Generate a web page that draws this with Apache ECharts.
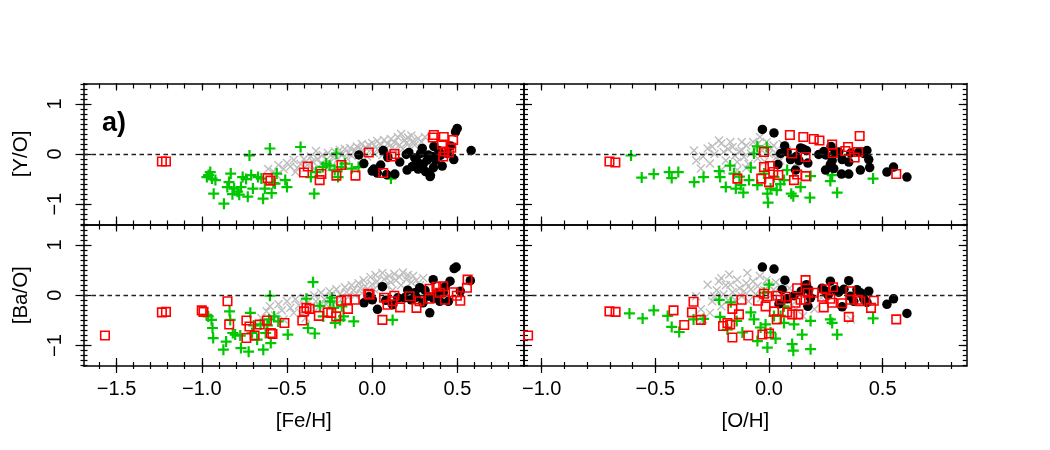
<!DOCTYPE html>
<html><head><meta charset="utf-8">
<script src="https://cdn.jsdelivr.net/npm/echarts@6/dist/echarts.min.js"></script>
<style>html,body{margin:0;padding:0;background:#fff}#c{width:1050px;height:450px}</style>
</head><body><div id="c"></div>
<script>
// ---------- axis ranges & ticks ----------
const feRange = [-1.694, 0.891];
const oRange = [-1.078, 0.870];
const yRange = [-1.405, 1.405];
const xMajorFe = [-1.5, -1.0, -0.5, 0.0, 0.5];
const xMinorFe = [-1.6,-1.5,-1.4,-1.3,-1.2,-1.1,-1.0,-0.9,-0.8,-0.7,-0.6,-0.5,-0.4,-0.3,-0.2,-0.1,0,0.1,0.2,0.3,0.4,0.5,0.6,0.7,0.8];
const xMajorO = [-1.0, -0.5, 0.0, 0.5];
const xMinorO = [-1.0,-0.9,-0.8,-0.7,-0.6,-0.5,-0.4,-0.3,-0.2,-0.1,0,0.1,0.2,0.3,0.4,0.5,0.6,0.7,0.8];
const yMajor = [-1, 0, 1];
const yMinor = [-1.4,-1.3,-1.2,-1.1,-1.0,-0.9,-0.8,-0.7,-0.6,-0.5,-0.4,-0.3,-0.2,-0.1,0,0.1,0.2,0.3,0.4,0.5,0.6,0.7,0.8,0.9,1.0,1.1,1.2,1.3,1.4];

// ---------- top-left: [Fe/H] vs [Y/O] ----------
const tlGray = [[-0.61,-0.30],[-0.58,-0.35],[-0.56,-0.42],[-0.55,-0.22],[-0.52,-0.30],[-0.50,-0.18],[-0.48,-0.25],[-0.46,-0.12],[-0.45,-0.36],[-0.44,-0.28],[-0.42,-0.20],[-0.40,-0.10],[-0.38,-0.22],[-0.36,-0.05],[-0.35,-0.15],[-0.34,-0.30],[-0.33,0.06],[-0.32,-0.10],[-0.30,-0.20],[-0.29,-0.02],[-0.27,-0.12],[-0.26,0.02],[-0.25,-0.18],[-0.24,-0.26],[-0.23,-0.06],[-0.22,0.05],[-0.20,-0.10],[-0.19,0.08],[-0.18,-0.02],[-0.16,0.10],[-0.15,-0.08],[-0.14,0.03],[-0.13,0.12],[-0.12,-0.04],[-0.10,0.07],[-0.09,0.15],[-0.08,-0.02],[-0.07,0.10],[-0.06,0.20],[-0.05,0.04],[-0.04,0.13],[-0.03,-0.05],[-0.02,0.18],[-0.01,0.08],[0.00,0.22],[0.01,0.02],[0.02,0.14],[0.03,0.26],[0.04,0.06],[0.05,0.18],[0.06,-0.02],[0.07,0.28],[0.08,0.10],[0.09,0.20],[0.10,0.04],[0.11,0.30],[0.12,0.14],[0.13,0.24],[0.14,0.06],[0.15,0.34],[0.16,0.18],[0.17,0.40],[0.18,0.10],[0.19,0.28],[0.20,0.22],[0.21,0.33],[0.22,0.14],[0.23,0.37],[0.24,0.26],[0.25,0.18],[0.27,0.31],[0.29,0.24],[0.31,0.34]];
const tlGreen = [[-0.96,-0.42],[-0.95,-0.36],[-0.97,-0.46],[-0.94,-0.49],[-0.93,-0.79],[-0.87,-0.99],[-0.85,-0.66],[-0.84,-0.56],[-0.83,-0.39],[-0.81,-0.69],[-0.79,-0.75],[-0.78,-0.81],[-0.77,-0.66],[-0.76,-0.46],[-0.73,-0.85],[-0.71,-0.42],[-0.70,-0.69],[-0.72,-0.03],[-0.67,-0.46],[-0.65,-0.49],[-0.64,-0.89],[-0.63,-0.69],[-0.59,-0.78],[-0.58,-0.58],[-0.60,0.11],[-0.56,-0.39],[-0.51,-0.52],[-0.50,-0.66],[-0.57,-0.59],[-0.42,0.14],[-0.34,-0.79],[-0.36,-0.46],[-0.33,-0.36],[-0.29,-0.26],[-0.27,-0.19],[-0.25,-0.23],[-0.22,-0.32],[-0.21,0.01],[-0.20,-0.46],[-0.18,-0.26],[-0.16,-0.19],[-0.12,-0.29],[-0.08,-0.26],[0.11,-0.49],[-0.92,-0.52],[-0.82,-0.80],[-0.74,-0.50]];
const tlBlack = [[-0.078,-0.02],[-0.049,-0.19],[0.0,-0.34],[0.03,-0.38],[0.065,0.07],[0.092,-0.07],[0.133,-0.40],[0.162,-0.16],[0.205,-0.32],[0.215,0.03],[0.235,-0.25],[0.264,-0.15],[0.284,0.01],[0.294,0.11],[0.313,-0.35],[0.342,-0.43],[0.323,-0.12],[0.362,0.15],[0.372,-0.12],[0.411,-0.24],[0.352,-0.05],[0.44,0.01],[0.479,-0.11],[0.489,0.44],[0.499,0.51],[0.581,0.07],[0.46,0.16],[0.39,0.07],[0.01,-0.30],[0.05,-0.22],[0.27,-0.30],[0.33,-0.02],[0.40,-0.03],[0.36,-0.27],[0.34,-0.45],[0.085,-0.41],[0.25,-0.08],[0.30,-0.20],[0.20,-0.01]];
const tlRed = [[-1.234,-0.15],[-1.210,-0.15],[-0.613,-0.48],[-0.597,-0.53],[-0.378,-0.25],[-0.40,-0.37],[-0.298,-0.40],[-0.308,-0.52],[-0.18,-0.22],[-0.21,-0.43],[-0.098,-0.43],[-0.02,0.03],[0.065,-0.38],[0.113,-0.05],[0.131,0.0],[0.362,0.38],[0.356,0.33],[0.42,0.34],[0.41,0.19],[0.475,0.28],[0.464,0.125],[0.425,0.05],[0.417,-0.05],[0.45,0.03]];

// ---------- top-right: [O/H] vs [Y/O] ----------
const trGray = [[-0.33,0.07],[-0.32,-0.13],[-0.30,-0.29],[-0.29,-0.05],[-0.27,0.11],[-0.26,-0.19],[-0.24,0.00],[-0.22,0.27],[-0.21,0.21],[-0.21,-0.32],[-0.20,0.04],[-0.19,-0.13],[-0.18,0.10],[-0.17,0.24],[-0.16,0.14],[-0.15,-0.03],[-0.14,-0.16],[-0.14,-0.32],[-0.13,0.05],[-0.12,0.24],[-0.12,0.07],[-0.11,-0.06],[-0.10,0.17],[-0.09,-0.20],[-0.08,0.01],[-0.07,0.24],[-0.06,0.10],[-0.05,-0.09],[-0.04,0.34],[-0.03,0.07],[-0.02,-0.15],[-0.01,0.24],[0.00,0.00],[0.01,0.11],[0.02,0.17],[0.03,-0.08],[0.04,-0.03],[0.05,-0.13],[0.06,0.20],[0.07,0.01],[0.08,0.07],[0.10,-0.05],[0.12,-0.18],[-0.10,-0.28],[-0.25,0.15],[-0.05,0.20]];
const trGreen = [[-0.607,-0.03],[-0.56,-0.47],[-0.507,-0.40],[-0.439,-0.36],[-0.428,-0.48],[-0.399,-0.36],[-0.329,-0.56],[-0.288,-0.46],[-0.219,-0.34],[-0.215,-0.46],[-0.171,-0.23],[-0.154,-0.39],[-0.19,-0.66],[-0.146,-0.69],[-0.124,-0.62],[-0.113,-0.77],[-0.088,-0.52],[-0.08,-0.27],[-0.051,-0.62],[-0.066,0.01],[-0.051,0.15],[-0.007,-0.79],[-0.004,-0.97],[0.007,-0.69],[0.034,-0.72],[0.066,-0.52],[0.08,-0.32],[0.098,-0.79],[0.107,-0.84],[0.139,-0.66],[0.18,-0.87],[0.183,-0.44],[0.27,-0.54],[0.278,-0.42],[0.3,-0.77],[0.458,-0.49],[-0.022,-0.39],[0.022,-0.46],[-0.01,0.14],[-0.13,-0.45],[0.05,-0.60]];
const trBlack = [[-0.029,0.49],[0.022,0.42],[0.069,0.16],[0.051,0.01],[0.039,-0.21],[0.08,0.04],[0.095,-0.11],[0.132,-0.13],[0.117,-0.32],[0.139,0.12],[0.165,0.07],[0.171,-0.18],[0.219,-0.01],[0.241,0.05],[0.249,-0.32],[0.27,-0.21],[0.273,0.15],[0.278,-0.13],[0.285,-0.29],[0.307,0.04],[0.322,-0.11],[0.319,-0.40],[0.351,-0.40],[0.351,-0.16],[0.402,-0.32],[0.395,0.04],[0.417,0.01],[0.439,-0.11],[0.443,-0.27],[0.431,0.07],[0.519,-0.36],[0.548,-0.26],[0.607,-0.46],[0.15,0.10],[0.29,0.03],[0.36,0.02],[0.25,-0.02],[0.12,-0.05]];
const trRed = [[-0.702,-0.15],[-0.676,-0.17],[-0.139,-0.49],[-0.034,-0.49],[0.0,-0.56],[-0.022,-0.26],[0.004,-0.24],[0.019,-0.36],[0.041,-0.42],[-0.022,0.04],[0.102,0.01],[0.092,0.38],[0.110,-0.52],[0.124,-0.41],[0.151,0.34],[0.161,-0.06],[0.161,-0.44],[0.197,0.30],[0.222,0.27],[0.278,0.19],[0.281,0.02],[0.336,0.06],[0.348,0.14],[0.377,-0.07],[0.392,0.04],[0.399,0.36],[0.56,-0.40]];

// ---------- bottom-left: [Fe/H] vs [Ba/O] ----------
const blGray = [[-0.65,-0.45],[-0.62,-0.32],[-0.60,-0.22],[-0.57,-0.40],[-0.55,-0.18],[-0.53,-0.30],[-0.52,-0.48],[-0.50,-0.12],[-0.48,-0.25],[-0.46,-0.35],[-0.45,-0.08],[-0.43,-0.20],[-0.41,-0.38],[-0.40,-0.05],[-0.39,-0.45],[-0.38,-0.15],[-0.36,-0.28],[-0.34,0.00],[-0.33,-0.12],[-0.31,-0.22],[-0.30,0.05],[-0.28,-0.08],[-0.27,-0.18],[-0.25,0.08],[-0.24,-0.02],[-0.22,-0.14],[-0.21,0.12],[-0.19,0.02],[-0.18,-0.08],[-0.16,0.16],[-0.15,0.06],[-0.14,-0.04],[-0.12,0.20],[-0.11,0.10],[-0.10,0.00],[-0.08,0.24],[-0.07,0.14],[-0.06,0.04],[-0.05,0.30],[-0.04,0.18],[-0.02,0.08],[-0.01,0.36],[0.00,0.22],[0.01,0.12],[0.02,0.40],[0.03,0.28],[0.05,0.16],[0.06,0.44],[0.07,0.32],[0.08,0.20],[0.10,0.38],[0.11,0.26],[0.12,0.10],[0.13,0.42],[0.14,0.30],[0.16,0.36],[0.17,0.20],[0.18,0.45],[0.20,0.32],[0.21,0.40],[0.23,0.26],[0.24,0.38],[0.26,0.30],[0.28,0.20],[0.30,0.34]];
const blGreen = [[-0.962,-0.42],[-0.943,-0.49],[-0.972,-0.39],[-0.937,-0.65],[-0.933,-0.85],[-0.873,-1.08],[-0.857,-0.92],[-0.837,-0.32],[-0.833,-0.49],[-0.818,-0.75],[-0.804,-0.78],[-0.774,-0.80],[-0.77,-1.05],[-0.725,-1.12],[-0.715,-0.35],[-0.705,-0.75],[-0.695,-0.60],[-0.675,-0.88],[-0.655,-0.58],[-0.639,-1.08],[-0.625,-0.75],[-0.615,-0.60],[-0.605,-0.48],[-0.595,-0.95],[-0.575,-0.42],[-0.551,-0.52],[-0.495,-0.78],[-0.60,-0.01],[-0.347,0.26],[-0.386,-0.07],[-0.337,-0.76],[-0.376,-0.65],[-0.307,-0.21],[-0.287,-0.42],[-0.247,-0.12],[-0.227,-0.25],[-0.217,-0.55],[-0.188,-0.49],[-0.168,-0.42],[-0.108,-0.52],[0.12,-0.49],[-0.178,-0.22],[-0.237,-0.05]];
const blBlack = [[-0.048,-0.15],[0.001,-0.09],[0.031,-0.28],[0.06,0.17],[0.12,-0.19],[0.15,-0.05],[0.209,0.10],[0.229,-0.09],[0.259,-0.04],[0.279,0.15],[0.298,-0.15],[0.328,-0.02],[0.338,-0.35],[0.358,0.31],[0.377,0.03],[0.397,-0.12],[0.417,0.05],[0.447,-0.12],[0.457,0.28],[0.481,0.53],[0.493,0.56],[0.517,0.08],[0.576,0.29],[0.19,-0.05],[-0.019,-0.03],[0.08,-0.10],[0.25,0.05],[0.31,0.10],[0.43,0.18],[0.36,-0.06]];
const blRed = [[-1.568,-0.80],[-1.234,-0.34],[-1.21,-0.33],[-1.0,-0.30],[-0.99,-0.33],[-0.849,-0.12],[-0.839,-0.58],[-0.738,-0.50],[-0.72,-0.62],[-0.738,-0.85],[-0.69,-0.80],[-0.66,-0.58],[-0.618,-0.50],[-0.595,-0.75],[-0.585,-0.77],[-0.515,-0.55],[-0.41,-0.50],[-0.40,-0.32],[-0.386,-0.25],[-0.367,-0.27],[-0.313,-0.41],[-0.26,-0.34],[-0.24,-0.35],[-0.211,-0.42],[-0.182,-0.11],[-0.148,-0.09],[-0.142,-0.27],[-0.102,-0.09],[-0.023,0.03],[-0.015,0.01],[0.06,-0.49],[0.07,-0.05],[0.09,-0.19],[0.12,-0.12],[0.13,-0.01],[0.164,-0.24],[0.22,-0.02],[0.26,-0.25],[0.278,-0.12],[0.337,-0.07],[0.377,0.17],[0.397,0.05],[0.427,-0.09],[0.417,0.18],[0.477,0.06],[0.497,-0.01],[0.517,-0.11],[0.556,0.15],[0.56,0.31],[0.337,0.13]];

// ---------- bottom-right: [O/H] vs [Ba/O] ----------
const brGray = [[-0.32,-0.02],[-0.30,-0.28],[-0.29,-0.48],[-0.27,0.21],[-0.26,-0.35],[-0.25,-0.12],[-0.24,-0.02],[-0.23,0.10],[-0.22,0.28],[-0.21,0.34],[-0.21,-0.22],[-0.20,0.02],[-0.19,0.20],[-0.18,-0.10],[-0.175,0.41],[-0.17,0.21],[-0.16,0.06],[-0.15,-0.09],[-0.14,0.31],[-0.13,0.14],[-0.12,-0.02],[-0.11,0.08],[-0.10,0.24],[-0.095,0.44],[-0.09,-0.12],[-0.08,0.12],[-0.07,0.28],[-0.06,0.02],[-0.05,0.18],[-0.04,0.38],[-0.035,-0.06],[-0.02,0.10],[-0.01,0.31],[0.00,0.20],[0.01,0.00],[0.02,0.11],[0.03,0.26],[0.04,-0.14],[0.05,0.18],[0.06,0.04],[0.08,-0.09],[0.09,0.14],[0.10,-0.20],[0.12,-0.28],[0.13,0.02],[0.15,-0.41],[0.17,-0.12],[0.20,-0.28],[0.23,-0.05],[0.36,-0.48]];
const brGreen = [[-0.614,-0.36],[-0.556,-0.46],[-0.507,-0.30],[-0.446,-0.41],[-0.428,-0.63],[-0.395,-0.73],[-0.332,-0.48],[-0.288,-0.47],[-0.219,-0.09],[-0.215,-0.43],[-0.168,-0.14],[-0.183,-0.68],[-0.142,-0.51],[-0.117,-0.74],[-0.08,-0.34],[-0.066,-0.48],[-0.051,-0.91],[-0.037,-0.64],[-0.015,-0.58],[-0.007,-1.04],[0.007,-0.74],[0.029,-0.86],[0.051,-0.41],[0.066,-0.55],[0.102,-0.97],[0.107,-1.1],[0.110,-0.58],[0.146,-0.78],[0.183,-1.07],[0.183,-0.51],[0.27,-0.48],[0.278,-0.55],[0.3,-0.78],[0.458,-0.46],[0.0,0.21],[-0.022,0.05],[0.022,-0.41],[0.066,-0.22]];
const brBlack = [[-0.029,0.56],[0.022,0.52],[0.07,0.30],[0.058,0.11],[0.044,-0.17],[0.08,-0.07],[0.11,-0.01],[0.142,0.08],[0.165,0.21],[0.175,0.11],[0.171,-0.22],[0.183,-0.05],[0.234,0.14],[0.249,0.08],[0.27,0.28],[0.292,0.11],[0.307,0.06],[0.322,-0.23],[0.351,0.29],[0.358,-0.02],[0.373,-0.12],[0.387,0.11],[0.402,0.05],[0.417,-0.07],[0.439,0.08],[0.431,-0.14],[0.519,-0.18],[0.548,-0.07],[0.607,-0.36],[0.26,0.00],[0.33,0.12]];
const brRed = [[-1.06,-0.80],[-0.702,-0.32],[-0.675,-0.33],[-0.42,-0.30],[-0.373,-0.59],[-0.339,-0.34],[-0.332,-0.13],[-0.30,-0.49],[-0.202,-0.61],[-0.183,-0.55],[-0.171,-0.58],[-0.161,-0.27],[-0.161,-0.84],[-0.132,-0.38],[-0.121,-0.09],[-0.091,-0.80],[-0.048,-0.11],[-0.029,-0.78],[-0.022,0.03],[0.0,-0.76],[-0.007,-0.02],[-0.015,-0.22],[0.022,-0.32],[0.034,-0.48],[0.037,-0.01],[0.051,-0.09],[0.073,-0.03],[0.08,-0.34],[0.102,-0.38],[0.117,-0.15],[0.124,0.14],[0.129,-0.38],[0.139,-0.09],[0.161,0.30],[0.161,-0.09],[0.171,0.05],[0.197,0.05],[0.234,-0.03],[0.241,-0.24],[0.249,0.12],[0.27,-0.07],[0.282,0.16],[0.278,-0.15],[0.351,-0.43],[0.322,-0.16],[0.358,0.08],[0.358,-0.09],[0.39,-0.09],[0.402,-0.12],[0.449,-0.25],[0.461,-0.11],[0.56,-0.48]];

// ---------- build ----------
const FONT = '"Liberation Sans", Arial, Helvetica, sans-serif';
const grids = [
  {left: 83.5, top: 83.5, width: 440.5, height: 141},
  {left: 524, top: 83.5, width: 442.7, height: 141},
  {left: 83.5, top: 224.5, width: 440.5, height: 141.5},
  {left: 524, top: 224.5, width: 442.7, height: 141.5}
].map(g => Object.assign({containLabel: false, outerBoundsMode: 'none'}, g));

const xAxes = [], yAxes = [];
function base(gi, range, pos) {
  return {type: 'value', gridIndex: gi, min: range[0], max: range[1], position: pos,
    splitLine: {show: false}, axisLine: {show: false, onZero: false},
    axisLabel: {show: false}, axisTick: {show: false}, axisPointer: {show: false}, silent: true};
}
function tk(vals, len, inside) {
  return {show: true, inside: inside, length: len, customValues: vals, lineStyle: {color: '#000', width: 1.2}};
}
const lineOn = {show: true, onZero: false, lineStyle: {color: '#000', width: 1.5}};
function fmtX(v) { const s = Math.abs(v).toFixed(1); return v < 0 ? '\u2212' + s : s; }
function fmtY(v) { const s = String(Math.abs(Math.round(v))); return v < 0 ? '\u2212' + s : s; }

function addX(gi, range, minor, major, bottomRow, name) {
  const a = base(gi, range, 'bottom'); a.axisLine = lineOn; a.axisTick = tk(minor, 4, true);
  xAxes.push(a); const idx = xAxes.length - 1;
  const b = base(gi, range, 'bottom'); b.axisTick = tk(major, 8, true);
  if (bottomRow) {
    b.axisLabel = {show: true, customValues: major, formatter: fmtX, fontSize: 20, color: '#000', fontFamily: FONT, margin: 13};
    b.name = name; b.nameLocation = 'middle'; b.nameGap = 45;
    b.nameTextStyle = {fontSize: 20.5, color: '#000', fontFamily: FONT};
  }
  xAxes.push(b);
  if (bottomRow) {
    const c = base(gi, range, 'bottom'); c.axisTick = tk(minor, 3, false); xAxes.push(c);
    const d = base(gi, range, 'bottom'); d.axisTick = tk(major, 7, false); xAxes.push(d);
  }
  const e = base(gi, range, 'top'); e.axisLine = lineOn; e.axisTick = tk(minor, 5, true); xAxes.push(e);
  const f = base(gi, range, 'top'); f.axisTick = tk(major, 7, true); xAxes.push(f);
  return idx;
}
function addY(gi, range, leftCol, name) {
  const a = base(gi, range, 'left'); a.axisLine = lineOn; a.axisTick = tk(yMinor, 4, true);
  yAxes.push(a); const idx = yAxes.length - 1;
  const b = base(gi, range, 'left'); b.axisTick = tk(yMajor, 8, true);
  if (leftCol) {
    b.axisLabel = {show: true, customValues: yMajor, formatter: fmtY, rotate: 90, fontSize: 20, color: '#000', fontFamily: FONT, margin: 18};
    b.name = name; b.nameLocation = 'middle'; b.nameGap = 52; b.nameRotate = 90;
    b.nameTextStyle = {fontSize: 20.5, color: '#000', fontFamily: FONT};
  }
  yAxes.push(b);
  if (leftCol) {
    const c = base(gi, range, 'left'); c.axisTick = tk(yMinor, 3, false); yAxes.push(c);
    const d = base(gi, range, 'left'); d.axisTick = tk(yMajor, 8, false); yAxes.push(d);
  }
  const e = base(gi, range, 'right'); e.axisLine = lineOn; e.axisTick = tk(yMinor, 4, true); yAxes.push(e);
  const f = base(gi, range, 'right'); f.axisTick = tk(yMajor, 8, true); yAxes.push(f);
  return idx;
}

const panels = [
  {gi: 0, xr: feRange, xmin: xMinorFe, xmaj: xMajorFe, bottom: false, left: true, xname: '', yname: '[Y/O]', sets: [tlGray, tlGreen, tlBlack, tlRed]},
  {gi: 1, xr: oRange, xmin: xMinorO, xmaj: xMajorO, bottom: false, left: false, xname: '', yname: '', sets: [trGray, trGreen, trBlack, trRed]},
  {gi: 2, xr: feRange, xmin: xMinorFe, xmaj: xMajorFe, bottom: true, left: true, xname: '[Fe/H]', yname: '[Ba/O]', sets: [blGray, blGreen, blBlack, blRed]},
  {gi: 3, xr: oRange, xmin: xMinorO, xmaj: xMajorO, bottom: true, left: false, xname: '[O/H]', yname: '', sets: [brGray, brGreen, brBlack, brRed]}
];

const styles = [
  {symbol: 'path://M0,0L10,10M10,0L0,10', symbolSize: 8, itemStyle: {color: 'transparent', borderColor: '#BEBEBE', borderWidth: 1.4, opacity: 1}},
  {symbol: 'path://M5,0V10M0,5H10', symbolSize: 11, itemStyle: {color: 'transparent', borderColor: '#00C800', borderWidth: 2.2, opacity: 1}},
  {symbol: 'circle', symbolSize: 9.5, itemStyle: {color: '#000', opacity: 1}},
  {symbol: 'rect', symbolSize: 8.5, itemStyle: {color: 'transparent', borderColor: '#FF0000', borderWidth: 1.6, opacity: 1}}
];

const series = [];
panels.forEach(p => {
  const xi = addX(p.gi, p.xr, p.xmin, p.xmaj, p.bottom, p.xname);
  const yi = addY(p.gi, yRange, p.left, p.yname);
  p.sets.forEach((data, k) => {
    const s = Object.assign({type: 'scatter', xAxisIndex: xi, yAxisIndex: yi, data: data, silent: true,
      emphasis: {disabled: true}, animation: false, z: 2 + k}, styles[k]);
    if (k === 0) {
      s.markLine = {silent: true, symbol: ['none', 'none'], label: {show: false}, animation: false,
        lineStyle: {color: '#222', type: [4.5, 3.5], width: 1.4, opacity: 1}, emphasis: {disabled: true}, data: [{yAxis: 0}]};
    }
    series.push(s);
  });
});

const chart = echarts.init(document.getElementById('c'), null, {renderer: 'canvas'});
chart.setOption({
  animation: false,
  backgroundColor: '#fff',
  grid: grids,
  xAxis: xAxes,
  yAxis: yAxes,
  series: series,
  graphic: [{type: 'text', x: 102, y: 124, silent: true,
    style: {text: 'a)', fontSize: 27, fontWeight: 'bold', fontFamily: FONT, fill: '#000', align: 'left', verticalAlign: 'middle'}}]
});
</script>
</body></html>
